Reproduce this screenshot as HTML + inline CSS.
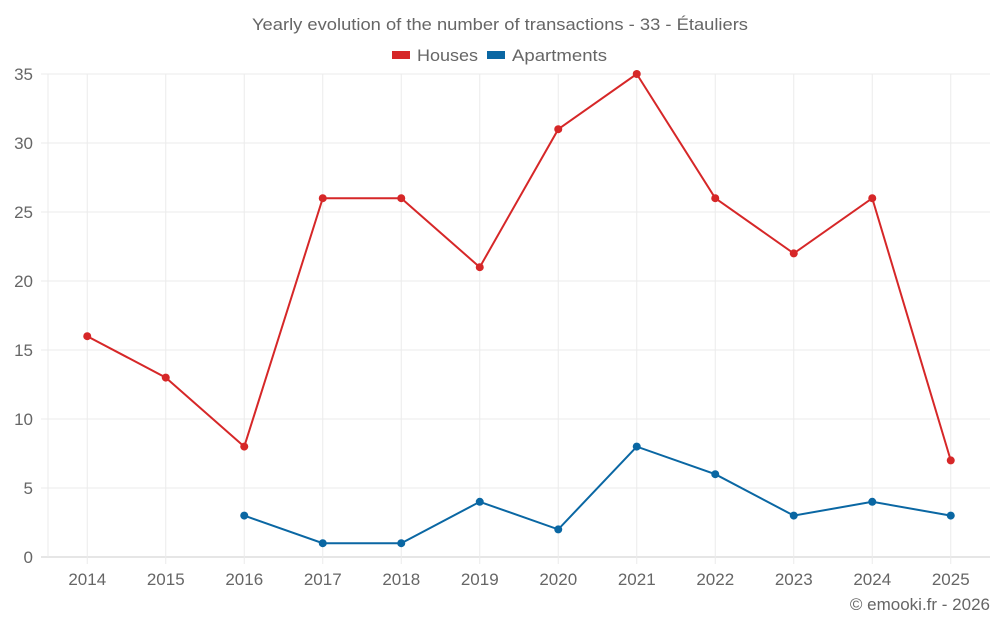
<!DOCTYPE html>
<html><head><meta charset="utf-8"><style>
body{margin:0;background:#fff;font-family:"Liberation Sans",sans-serif}
</style></head><body>
<svg id="chart" width="1000" height="625" xmlns="http://www.w3.org/2000/svg">
<text x="500" y="30" text-anchor="middle" font-size="17" fill="#666" textLength="496" lengthAdjust="spacingAndGlyphs">Yearly evolution of the number of transactions - 33 - Étauliers</text>
<g>
<g><rect x="392" y="51" width="18" height="8" fill="#d62728"/><text x="417" y="61" font-size="17" fill="#666" textLength="61" lengthAdjust="spacingAndGlyphs">Houses</text></g>
<g><rect x="487" y="51" width="18" height="8" fill="#0a67a3"/><text x="512" y="61" font-size="17" fill="#666" textLength="95" lengthAdjust="spacingAndGlyphs">Apartments</text></g>
</g>
<g id="grid"></g><g id="axes"></g><g id="series"></g>
<text x="990" y="610" text-anchor="end" font-size="17" fill="#666">© emooki.fr - 2026</text>
</svg>
<script>
const years=["2014","2015","2016","2017","2018","2019","2020","2021","2022","2023","2024","2025"];
const houses=[16,13,8,26,26,21,31,35,26,22,26,7];
const apartments=[null,null,3,1,1,4,2,8,6,3,4,3];
const yTicks=[0,5,10,15,20,25,30,35];
const L=48,R=990,T=74,B=557,yMax=35;
const bw=(R-L)/years.length;
const x=i=>L+bw*(i+0.5);
const y=v=>B-(v/yMax)*(B-T);
const NS="http://www.w3.org/2000/svg";
function mk(p,t,a){const e=document.createElementNS(NS,t);for(const k in a)e.setAttribute(k,a[k]);document.getElementById(p).appendChild(e);return e;}
yTicks.forEach(v=>{
 const g=mk('grid','line',{x1:41,x2:R,y1:y(v),y2:y(v),stroke:v===0?'#ccc':'#ebebeb','stroke-width':1});
 
 
 const t=mk('axes','text',{x:33,y:y(v)+6,'text-anchor':'end','font-size':17,fill:'#666'});
 t.textContent=v;
 
 
});
mk('grid','line',{x1:L,x2:L,y1:T,y2:B,stroke:'#ebebeb'});
years.forEach((yr,i)=>{
 const g=mk('grid','line',{x1:x(i),x2:x(i),y1:T,y2:B+7,stroke:'#ebebeb'});
 
 
 const t=mk('axes','text',{x:x(i),y:585,'text-anchor':'middle','font-size':17,fill:'#666'});
 t.textContent=yr;
 
 
});
function draw(data,color,name){
 let d='';data.forEach((v,i)=>{if(v==null)return;d+=(d?'L':'M')+x(i)+','+y(v);});
 const p=mk('series','path',{d:d,fill:'none',stroke:color,'stroke-width':2});
 
 
 data.forEach((v,i)=>{if(v==null)return;
  const c=mk('series','circle',{cx:x(i),cy:y(v),r:4,fill:color});
  
  
 });
}
draw(houses,'#d62728','houses');
draw(apartments,'#0a67a3','apartments');
</script>
</body></html>
